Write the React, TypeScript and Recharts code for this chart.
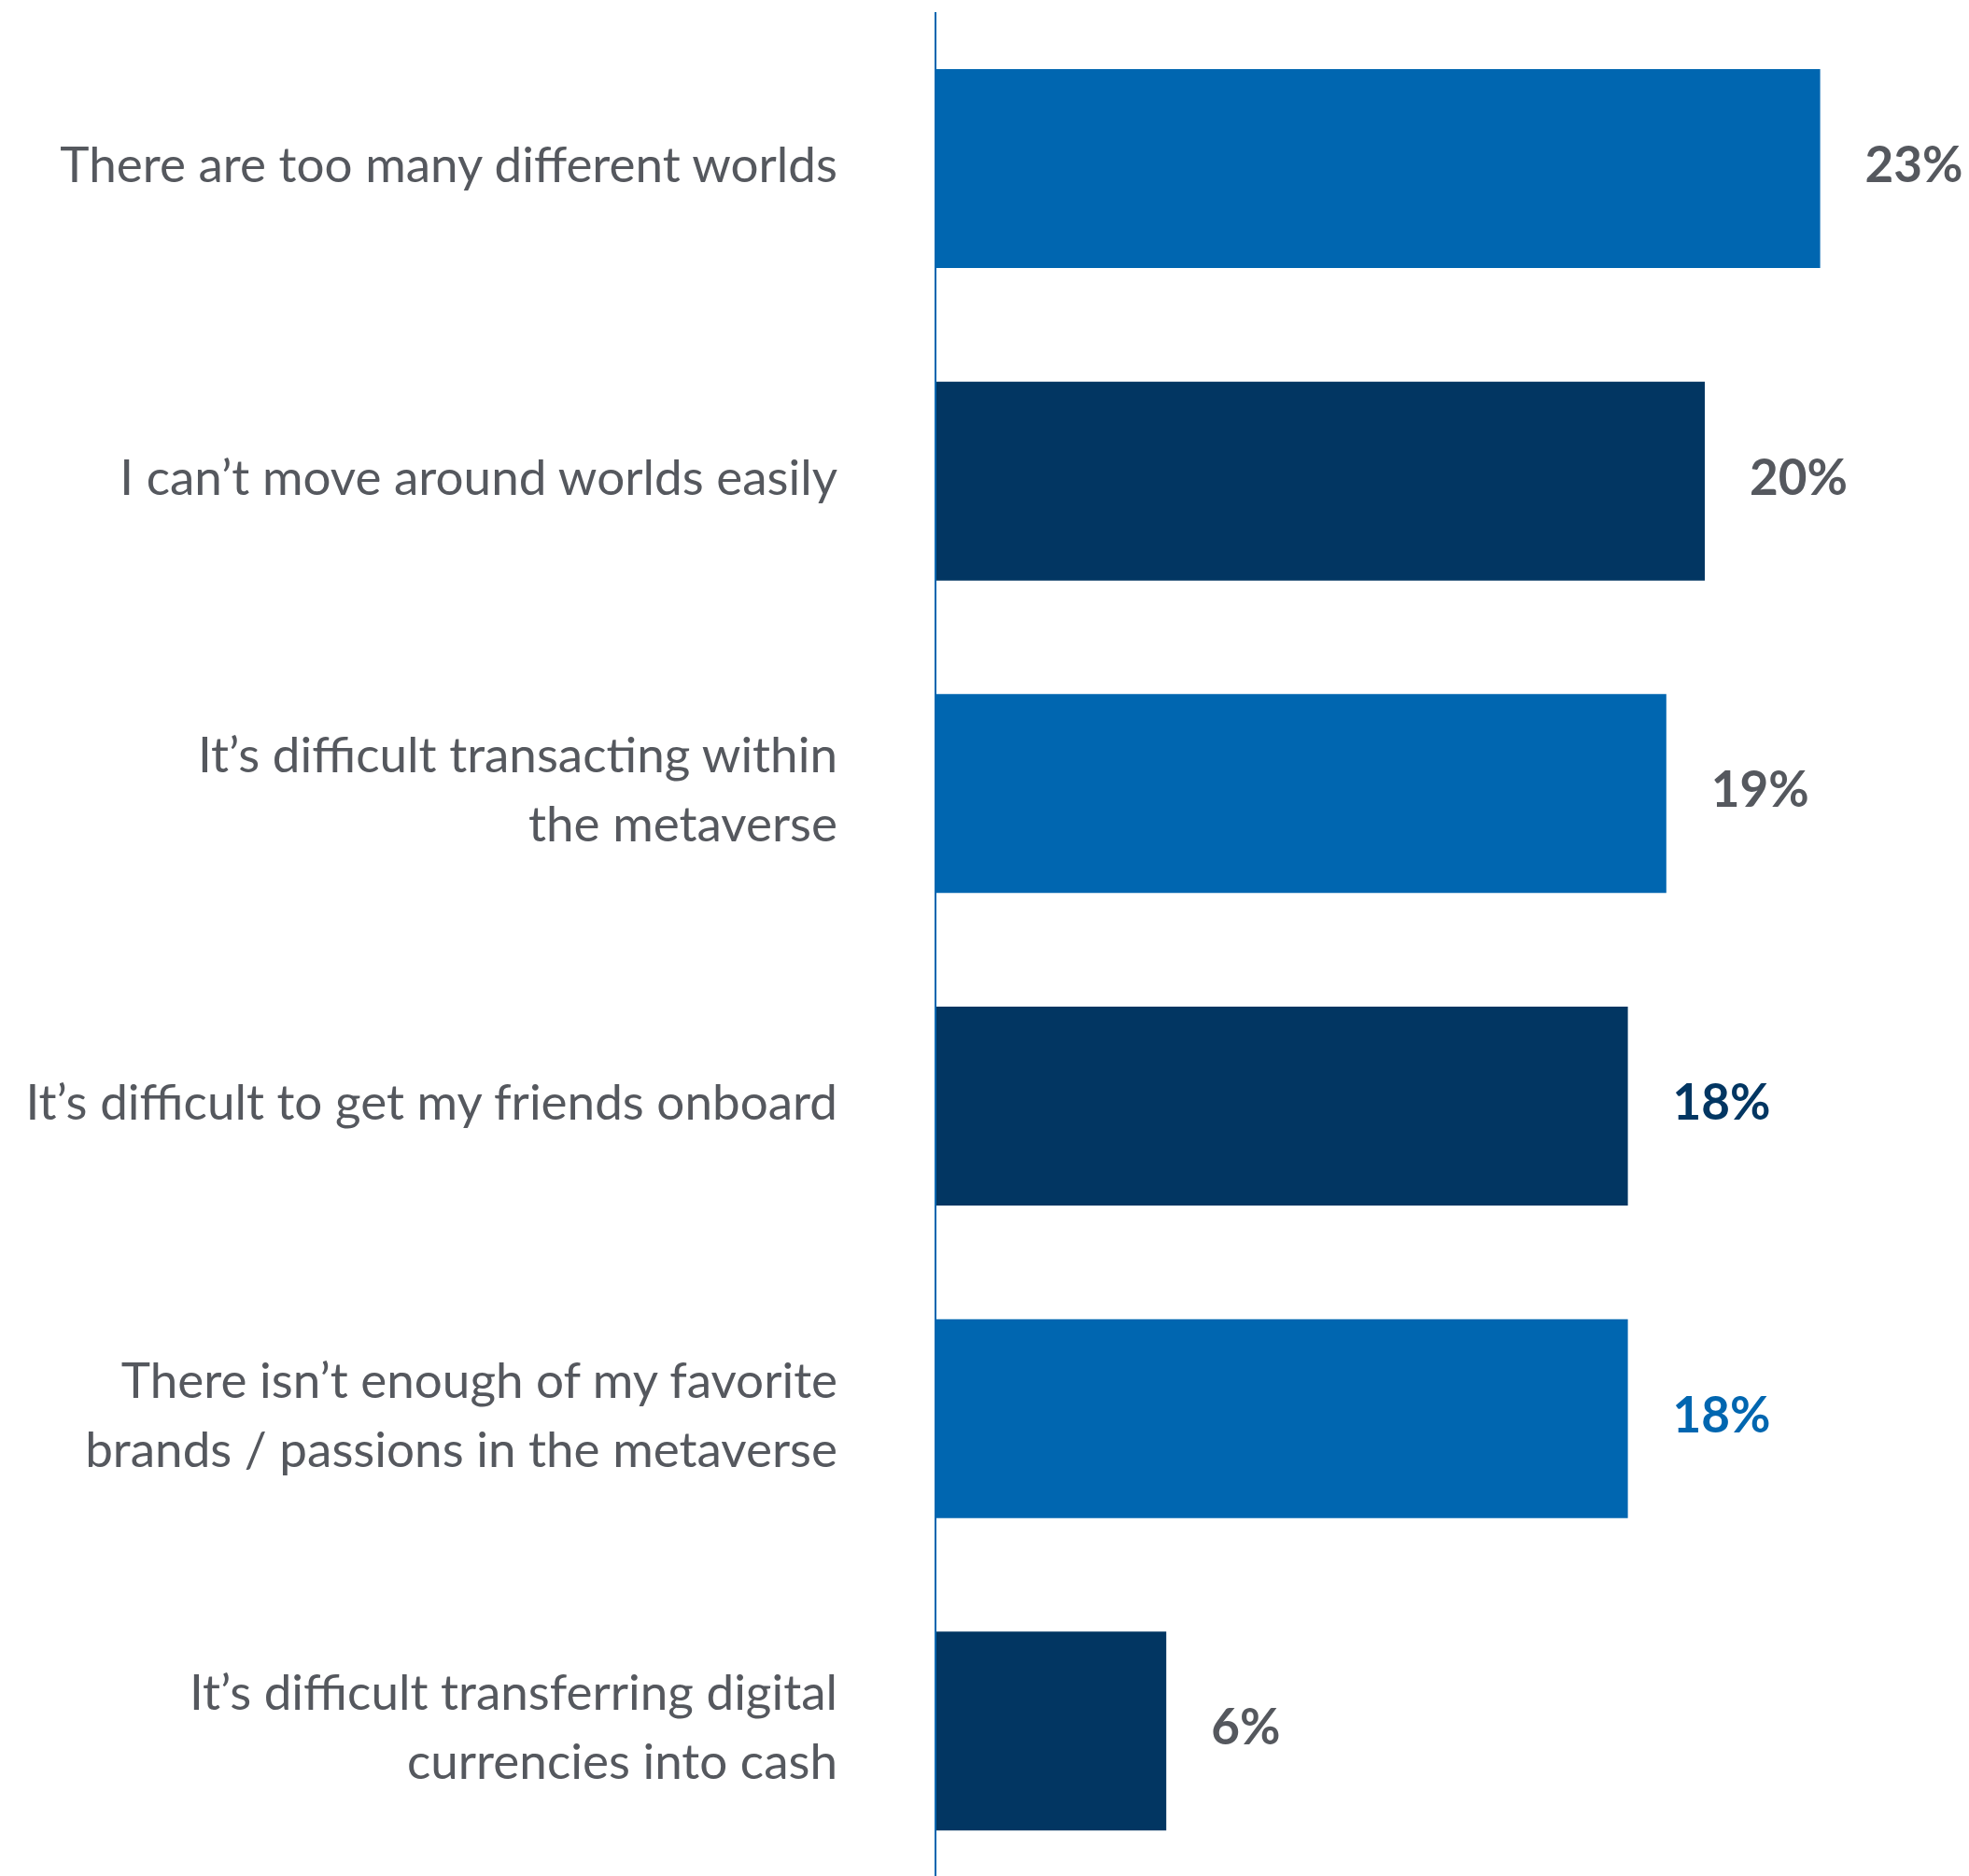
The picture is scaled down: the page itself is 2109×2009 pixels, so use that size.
import { BarChart, Bar, XAxis, YAxis, Cell, LabelList } from 'recharts';

// Survey answers, top to bottom. Line breaks mark where a label wraps.
const reasons = [
  'There are too many different worlds',
  'I can’t move around worlds easily',
  'It’s difficult transacting within\nthe metaverse',
  'It’s difficult to get my friends onboard',
  'There isn’t enough of my favorite\nbrands / passions in the metaverse',
  'It’s difficult transferring digital\ncurrencies into cash',
];
const shares = [23, 20, 19, 18, 18, 6];

const BLUE = '#0066B0';
const NAVY = '#023662';
const GRAY = '#55585E';

const barColors = [BLUE, NAVY, BLUE, NAVY, BLUE, NAVY];
const valueColors = [GRAY, GRAY, GRAY, NAVY, BLUE, GRAY];

const data = reasons.map((name, i) => ({ name, value: shares[i] }));

const FONT = 'Lato, "Noto Sans", sans-serif';

function ReasonTick({ x, y, payload }: any) {
  const lines = String(payload.value).split('\n');
  const lineHeight = 74;
  const first = -((lines.length - 1) * lineHeight) / 2 - 6;
  return (
    <text x={x} y={y} textAnchor="end" fill={GRAY} fontFamily={FONT} fontSize={53}>
      {lines.map((line, i) => (
        <tspan key={i} x={x} dy={i === 0 ? first : lineHeight} dominantBaseline="central">
          {line}
        </tspan>
      ))}
    </text>
  );
}

function ValueLabel({ x, y, width, height, value, index }: any) {
  return (
    <text
      x={x + width + 48}
      y={y + height / 2 - 6}
      dominantBaseline="central"
      fill={valueColors[index]}
      fontFamily={FONT}
      fontWeight={700}
      fontSize={53}
    >
      {value}%
    </text>
  );
}

export default function App() {
  return (
    <div style={{ position: 'absolute', left: 0, top: 0, width: 2109, height: 2009, overflow: 'hidden', background: '#fff' }}>
      <BarChart
        layout="vertical"
        width={2109}
        height={2021}
        data={data}
        margin={{ top: 13, right: 77, bottom: 0, left: 0 }}
        barSize={213}
      >
        <XAxis type="number" domain={[0, 25]} hide />
        <YAxis
          type="category"
          dataKey="name"
          width={1002}
          axisLine={{ stroke: BLUE, strokeWidth: 2 }}
          tickLine={false}
          tickSize={0}
          tickMargin={105}
          tick={<ReasonTick />}
          interval={0}
        />
        <Bar dataKey="value" isAnimationActive={false}>
          {data.map((_, i) => (
            <Cell key={i} fill={barColors[i]} />
          ))}
          <LabelList dataKey="value" content={<ValueLabel />} />
        </Bar>
      </BarChart>
    </div>
  );
}
